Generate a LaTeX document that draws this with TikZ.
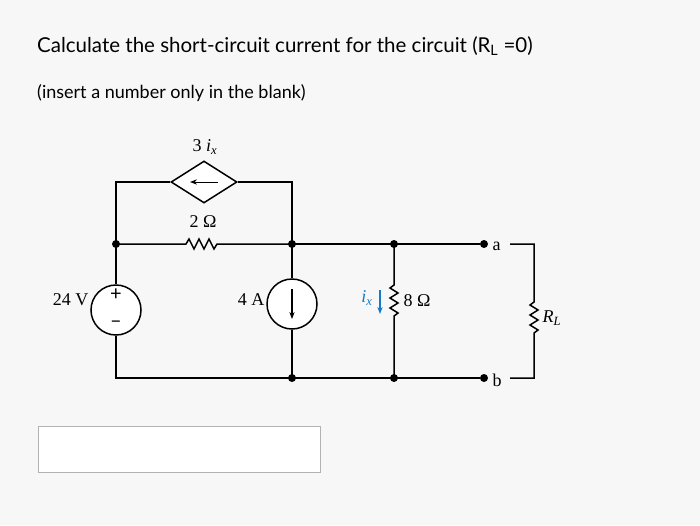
\documentclass[tikz,border=0pt]{standalone}
\usepackage{fontspec}
\setmainfont{Lato}
\newfontfamily\ckt{Liberation Serif}
\usetikzlibrary{shapes.geometric,arrows.meta}
\begin{document}
\begin{tikzpicture}[x=1pt,y=-1pt,
  wire/.style={line width=1.5pt},
  dot/.style={circle,fill,inner sep=0pt,minimum size=8pt},
  src/.style={circle,draw,line width=1.5pt,minimum size=50pt,inner sep=0pt,fill=white},
  lab/.style={font=\ckt\fontsize{18}{18}\selectfont}]
\useasboundingbox (0,0) rectangle (700,525);
\fill[gray!6] (0,0) rectangle (700,525);
\node[anchor=base west,font=\fontsize{20.5}{20.5}\selectfont,inner sep=0pt] (t1) at (37,52) {Calculate the short-circuit current for the circuit (R\textsubscript{L} =0)};
\node[anchor=base west,font=\fontsize{18}{18}\selectfont,inner sep=0pt] (t2) at (37,98) {(insert a number only in the blank)};
\node[draw=gray!60,fill=white,minimum width=282pt,minimum height=46pt,anchor=north west,inner sep=0pt] (box) at (38,426) {};
\coordinate (tl) at (116,182);
\coordinate (tr) at (292,182);
\coordinate (ml) at (116,244);
\coordinate (mm) at (292,244);
\coordinate (m8) at (394,244);
\coordinate (bl) at (116,378);
\coordinate (bm) at (292,378);
\coordinate (b8) at (394,378);
\node[dot] (a) at (484,244) {};
\node[dot] (b) at (484,378) {};
\node[lab,anchor=west] (al) at (489,246) {a};
\node[lab,anchor=west] (bl2) at (489,380) {b};
\coordinate (ra) at (534,244);
\coordinate (rb) at (534,378);
\node[diamond,draw,line width=1.5pt,minimum width=66pt,minimum height=42pt,inner sep=0pt,aspect=1.6,fill=white] (dep) at (204,182) {};
\draw[-{Stealth[length=7pt]},line width=1pt] ([xshift=14pt]dep.center) -- ([xshift=-14pt]dep.center);
\node[lab] (dl) at (205,147) {3 \textit{i\textsubscript{x}}};
\draw[wire] (ml) -- (tl) -- (dep.west);
\draw[wire] (dep.east) -- (tr) -- (mm);
\draw[wire] (ml) -- (186,244) -- (189,239) -- (194,249) -- (199,239) -- (204,249) -- (209,239) -- (214,249) -- (217,244) -- (mm);
\node[lab] (r2l) at (203,222) {2 Ω};
\draw[wire] (mm) -- (m8) -- (a);
\node[src] (v) at (116,310) {};
\node[font=\fontsize{20}{20}\selectfont] at (116,295) {+};
\node[font=\fontsize{20}{20}\selectfont] at (116,324) {--};
\node[lab,anchor=east] (vl) at (92,300) {24 V};
\draw[wire] (ml) -- (v.north);
\draw[wire] (v.south) -- (bl) -- (bm) -- (b8) -- (b);
\node[src] (i) at (292,304) {};
\draw[-{Stealth[length=7pt]},line width=1.1pt] (292,289) -- (292,319);
\node[lab,anchor=east] (il) at (268,300) {4 A};
\draw[wire] (mm) -- (i.north);
\draw[wire] (i.south) -- (bm);
\draw[wire] (m8) -- (394,285) -- (390,288) -- (398,293) -- (390,298) -- (398,303) -- (390,308) -- (398,313) -- (394,316) -- (b8);
\node[lab,anchor=west] (r8l) at (400,301) {8 Ω};
\node[lab,text=cyan!60!blue,anchor=east] (ixl) at (376,298) {\textit{i\textsubscript{x}}};
\draw[-{Stealth[length=7pt]},cyan!60!blue,line width=1.1pt] (380,290) -- (380,314);
\draw[wire] (510,244) -- (ra) -- (534,302) -- (530,305) -- (538,310) -- (530,315) -- (538,320) -- (530,325) -- (538,330) -- (534,333) -- (rb) -- (510,378);
\node[lab,anchor=west] (rll) at (539,318) {\textit{R\textsubscript{L}}};
\foreach \p in {ml,mm,m8,bm,b8} \node[dot] at (\p) {};
\end{tikzpicture}
\end{document}
